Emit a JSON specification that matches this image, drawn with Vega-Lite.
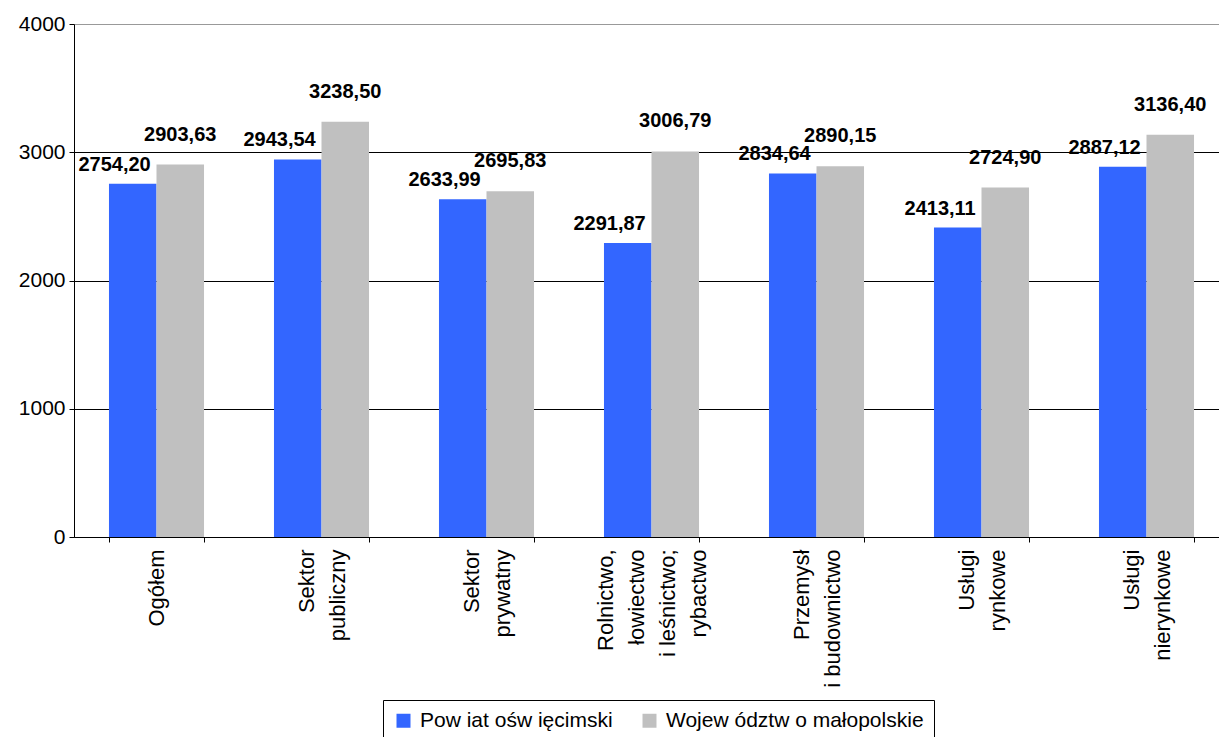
{
  "$schema": "https://vega.github.io/schema/vega-lite/v6.json",
  "width": 1155,
  "height": 513,
  "autosize": {"type": "none"},
  "padding": {"left": 74, "top": 24, "right": 0, "bottom": 200},
  "background": "white",
  "config": {
    "font": "Liberation Sans",
    "view": {"stroke": null},
    "locale": {"number": {"decimal": ",", "thousands": "", "grouping": [3], "currency": ["", ""]}}
  },
  "data": {
    "values": [
      {"kat": "Ogółem", "seria": "Pow iat ośw ięcimski", "wartosc": 2754.20},
      {"kat": "Ogółem", "seria": "Wojew ództw o małopolskie", "wartosc": 2903.63},
      {"kat": "Sektor|publiczny", "seria": "Pow iat ośw ięcimski", "wartosc": 2943.54},
      {"kat": "Sektor|publiczny", "seria": "Wojew ództw o małopolskie", "wartosc": 3238.50},
      {"kat": "Sektor|prywatny", "seria": "Pow iat ośw ięcimski", "wartosc": 2633.99},
      {"kat": "Sektor|prywatny", "seria": "Wojew ództw o małopolskie", "wartosc": 2695.83},
      {"kat": "Rolnictwo,|łowiectwo|i leśnictwo;|rybactwo", "seria": "Pow iat ośw ięcimski", "wartosc": 2291.87},
      {"kat": "Rolnictwo,|łowiectwo|i leśnictwo;|rybactwo", "seria": "Wojew ództw o małopolskie", "wartosc": 3006.79},
      {"kat": "Przemysł|i budownictwo", "seria": "Pow iat ośw ięcimski", "wartosc": 2834.64},
      {"kat": "Przemysł|i budownictwo", "seria": "Wojew ództw o małopolskie", "wartosc": 2890.15},
      {"kat": "Usługi|rynkowe", "seria": "Pow iat ośw ięcimski", "wartosc": 2413.11},
      {"kat": "Usługi|rynkowe", "seria": "Wojew ództw o małopolskie", "wartosc": 2724.90},
      {"kat": "Usługi|nierynkowe", "seria": "Pow iat ośw ięcimski", "wartosc": 2887.12},
      {"kat": "Usługi|nierynkowe", "seria": "Wojew ództw o małopolskie", "wartosc": 3136.40}
    ]
  },
  "encoding": {
    "x": {
      "field": "kat", "type": "nominal", "sort": null,
      "scale": {"paddingInner": 0.424, "paddingOuter": 0.212},
      "axis": {
        "title": null, "labelAngle": -90, "labelAlign": "right", "labelBaseline": "middle",
        "labelExpr": "length(split(datum.label, '|')) == 4 ? [split(datum.label, '|')[0], '\u200b', split(datum.label, '|')[1], '\u200b', split(datum.label, '|')[2], '\u200b', split(datum.label, '|')[3]] : (length(split(datum.label, '|')) == 2 ? ['\u200b', '\u200b', split(datum.label, '|')[0], '\u200b', split(datum.label, '|')[1]] : ['\u200b', '\u200b', '\u200b', datum.label])",
        "labelLineHeight": 15.5,
        "labelOffset": -46.5,
        "labelFontSize": 22, "labelColor": "black", "labelPadding": 7,
        "tickBand": "extent", "tickColor": "black", "tickSize": 5,
        "domainColor": "black", "labelLimit": 0
      }
    },
    "xOffset": {"field": "seria", "type": "nominal", "scale": {"paddingInner": 0}},
    "y": {
      "field": "wartosc", "type": "quantitative",
      "scale": {"domain": [0, 4000]},
      "axis": {
        "title": null, "values": [0, 1000, 2000, 3000, 4000],
        "labelFontSize": 21, "labelColor": "black", "labelPadding": 4,
        "tickColor": "black", "tickSize": 5, "domainColor": "black",
        "grid": true,
        "gridColor": {"condition": {"test": "datum.value === 4000", "value": "#999999"}, "value": "black"},
        "gridOpacity": 1, "gridWidth": 1
      }
    }
  },
  "layer": [
    {
      "mark": {"type": "bar"},
      "encoding": {
        "color": {
          "field": "seria", "type": "nominal",
          "scale": {"range": ["#3366FF", "#C0C0C0"]},
          "legend": {
            "title": null, "orient": "none", "direction": "horizontal",
            "legendX": 309, "legendY": 676,
            "symbolType": "square", "symbolSize": 196, "symbolStrokeWidth": 0,
            "symbolOpacity": 1,
            "labelFontSize": 21, "labelColor": "black", "labelOffset": 6, "labelLimit": 0,
            "columnPadding": 26, "padding": 10,
            "strokeColor": "black", "fillColor": "white"
          }
        }
      }
    },
    {
      "transform": [{"filter": "datum.seria === 'Pow iat ośw ięcimski'"}],
      "mark": {"type": "text", "align": "right", "baseline": "bottom", "dx": 18, "dy": -9, "fontSize": 20, "fontWeight": "bold", "color": "black"},
      "encoding": {"text": {"field": "wartosc", "type": "quantitative", "format": ".2f"}}
    },
    {
      "transform": [{"filter": "datum.seria === 'Wojew ództw o małopolskie'"}],
      "mark": {"type": "text", "align": "center", "baseline": "bottom", "dx": 0, "dy": -20, "fontSize": 20, "fontWeight": "bold", "color": "black"},
      "encoding": {"text": {"field": "wartosc", "type": "quantitative", "format": ".2f"}}
    }
  ]
}
